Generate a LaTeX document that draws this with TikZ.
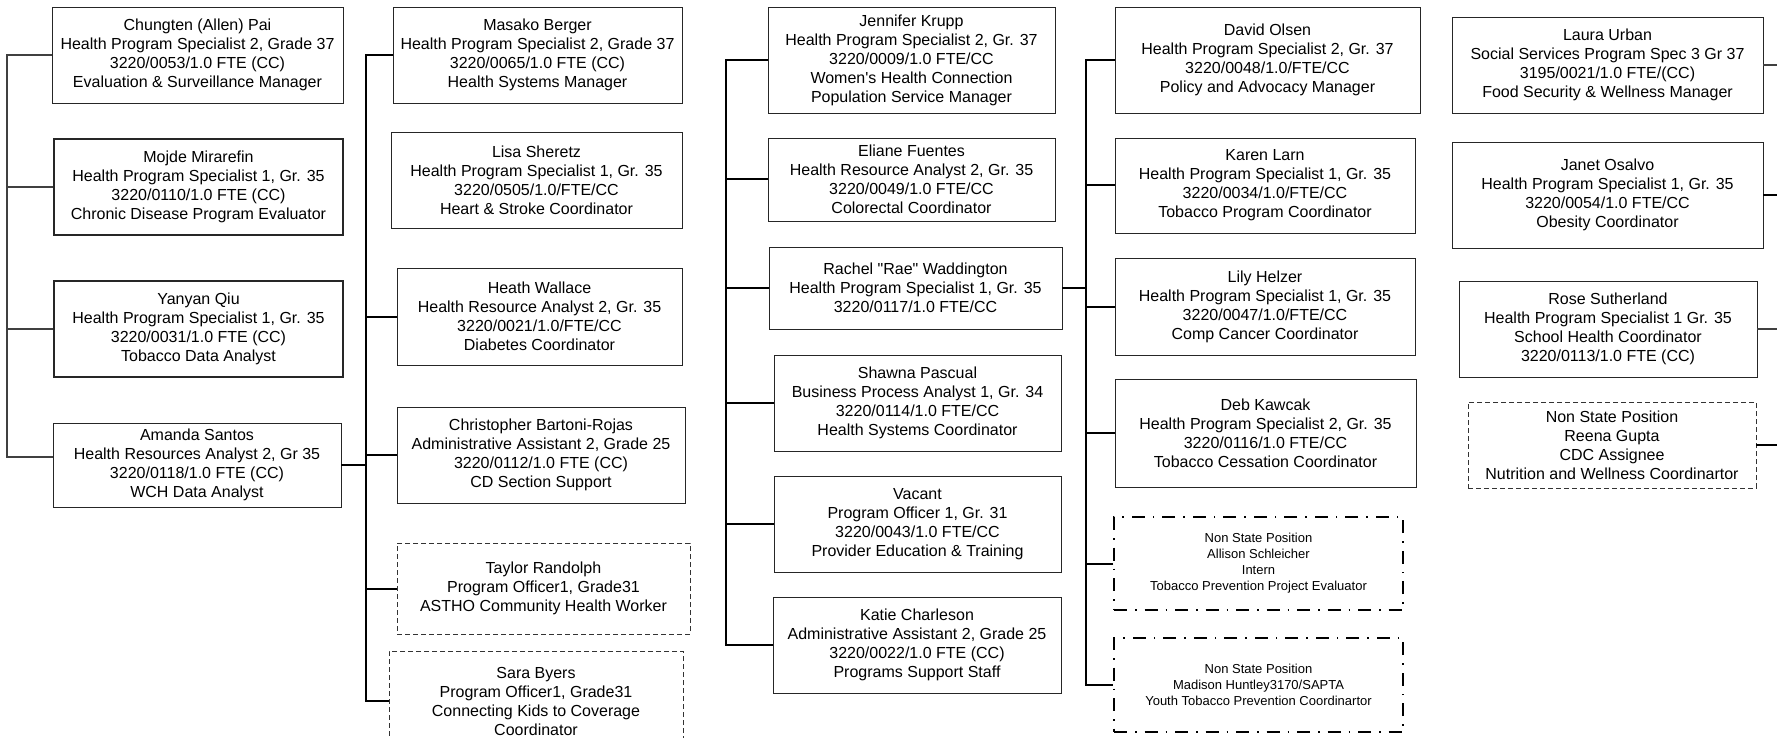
\documentclass[tikz,border=0pt]{standalone}
\usepackage{fontspec}
\newfontfamily\arialfont{Liberation Sans}
\begin{document}
\begin{tikzpicture}[x=1pt,y=-1pt,
  font=\arialfont\fontsize{16}{19}\selectfont,
  box/.style={draw=black!85, line width=0.9pt, align=center, inner sep=0pt, anchor=center},
  thickbox/.style={box, line width=2.2pt},
  dashbox/.style={box, draw=black!80, line width=0.8pt, dash pattern=on 5pt off 3pt},
  dotdashbox/.style={box, draw=black, line width=1.4pt, dash pattern=on 13pt off 8pt on 1.5pt off 8pt, font=\arialfont\fontsize{13}{16}\selectfont},
  thinconn/.style={draw=black!75, line width=1.1pt},
  conn/.style={draw=black, line width=2pt}]
\useasboundingbox (0,0) rectangle (1777,738);
\fill[white] (0,0) rectangle (1777,738);
\clip (0,0) rectangle (1777,738);

% trunk coordinates
\coordinate (t1) at (7,0);
\coordinate (t2) at (366,0);
\coordinate (t3) at (726,0);
\coordinate (t4) at (1086,0);
\coordinate (edge) at (1777,0);

% column 1
\node[box, minimum width=291, minimum height=96] (chungten) at (197.5,55) {Chungten (Allen) Pai\\Health Program Specialist 2, Grade 37\\3220/0053/1.0 FTE (CC)\\Evaluation \& Surveillance Manager};
\node[thickbox, minimum width=289, minimum height=96] (mojde) at (198.5,187) {Mojde Mirarefin\\Health Program Specialist 1, Gr. 35\\3220/0110/1.0 FTE (CC)\\Chronic Disease Program Evaluator};
\node[thickbox, minimum width=289, minimum height=96] (yanyan) at (198.5,329) {Yanyan Qiu\\Health Program Specialist 1, Gr. 35\\3220/0031/1.0 FTE (CC)\\Tobacco Data Analyst};
\node[box, minimum width=288, minimum height=84] (amanda) at (197,465) {Amanda Santos\\Health Resources Analyst 2, Gr 35\\3220/0118/1.0 FTE (CC)\\WCH Data Analyst};

% column 2
\node[box, minimum width=289, minimum height=96] (masako) at (537.5,55) {Masako Berger\\Health Program Specialist 2, Grade 37\\3220/0065/1.0 FTE (CC)\\Health Systems Manager};
\node[box, minimum width=291, minimum height=96] (lisa) at (536.5,180) {Lisa Sheretz\\Health Program Specialist 1, Gr. 35\\3220/0505/1.0/FTE/CC\\Heart \& Stroke Coordinator};
\node[box, minimum width=285, minimum height=97] (heath) at (539.5,316.5) {Heath Wallace\\Health Resource Analyst 2, Gr. 35\\3220/0021/1.0/FTE/CC\\Diabetes Coordinator};
\node[box, minimum width=288, minimum height=96] (christopher) at (541,455) {Christopher Bartoni-Rojas\\Administrative Assistant 2, Grade 25\\3220/0112/1.0 FTE (CC)\\CD Section Support};
\node[dashbox, minimum width=293, minimum height=91] (taylor) at (543.5,588.5) {Taylor Randolph\\Program Officer1, Grade31\\ASTHO Community Health Worker};
\node[dashbox, minimum width=294, minimum height=100] (sara) at (536,701) {Sara Byers\\Program Officer1, Grade31\\Connecting Kids to Coverage\\Coordinator};

% column 3
\node[box, minimum width=287, minimum height=106] (jennifer) at (911.5,60) {Jennifer Krupp\\Health Program Specialist 2, Gr. 37\\3220/0009/1.0 FTE/CC\\Women's Health Connection\\Population Service Manager};
\node[box, minimum width=287, minimum height=83] (eliane) at (911.5,179.5) {Eliane Fuentes\\Health Resource Analyst 2, Gr. 35\\3220/0049/1.0 FTE/CC\\Colorectal Coordinator};
\node[box, minimum width=293, minimum height=82] (rachel) at (915.5,288) {Rachel "Rae" Waddington\\Health Program Specialist 1, Gr. 35\\3220/0117/1.0 FTE/CC};
\node[box, minimum width=287, minimum height=96] (shawna) at (917.5,403) {Shawna Pascual\\Business Process Analyst 1, Gr. 34\\3220/0114/1.0 FTE/CC\\Health Systems Coordinator};
\node[box, minimum width=287, minimum height=96] (vacant) at (917.5,524) {Vacant\\Program Officer 1, Gr. 31\\3220/0043/1.0 FTE/CC\\Provider Education \& Training};
\node[box, minimum width=288, minimum height=96] (katie) at (917,645) {Katie Charleson\\Administrative Assistant 2, Grade 25\\3220/0022/1.0 FTE (CC)\\Programs Support Staff};

% column 4
\node[box, minimum width=305, minimum height=106] (david) at (1267.5,60) {David Olsen\\Health Program Specialist 2, Gr. 37\\3220/0048/1.0/FTE/CC\\Policy and Advocacy Manager};
\node[box, minimum width=300, minimum height=95] (karen) at (1265,185.5) {Karen Larn\\Health Program Specialist 1, Gr. 35\\3220/0034/1.0/FTE/CC\\Tobacco Program Coordinator};
\node[box, minimum width=300, minimum height=97] (lily) at (1265,306.5) {Lily Helzer\\Health Program Specialist 1, Gr. 35\\3220/0047/1.0/FTE/CC\\Comp Cancer Coordinator};
\node[box, minimum width=301, minimum height=108] (deb) at (1265.5,433) {Deb Kawcak\\Health Program Specialist 2, Gr. 35\\3220/0116/1.0 FTE/CC\\Tobacco Cessation Coordinator};
\node[dotdashbox, minimum width=289, minimum height=93] (allison) at (1258.5,563.5) {Non State Position\\Allison Schleicher\\Intern\\Tobacco Prevention Project Evaluator};
\node[dotdashbox, minimum width=289, minimum height=94] (madison) at (1258.5,685) {Non State Position\\Madison Huntley3170/SAPTA\\Youth Tobacco Prevention Coordinartor};

% column 5
\node[box, minimum width=311, minimum height=96] (laura) at (1607.5,65) {Laura Urban\\Social Services Program Spec 3 Gr 37\\3195/0021/1.0 FTE/(CC)\\Food Security \& Wellness Manager};
\node[box, minimum width=311, minimum height=106] (janet) at (1607.5,195) {Janet Osalvo\\Health Program Specialist 1, Gr. 35\\3220/0054/1.0 FTE/CC\\Obesity Coordinator};
\node[box, minimum width=298, minimum height=96] (rose) at (1608,329) {Rose Sutherland\\Health Program Specialist 1 Gr. 35\\School Health Coordinator\\3220/0113/1.0 FTE (CC)};
\node[dashbox, minimum width=288, minimum height=86] (reena) at (1612,445) {Non State Position\\Reena Gupta\\CDC Assignee\\Nutrition and Wellness Coordinartor};

% connectors column 1
\draw[thinconn] (chungten.west) -- (chungten.west -| t1) -- ([yshift=8pt]amanda.west -| t1) -- ([yshift=8pt]amanda.west);
\draw[thinconn] (mojde.west) -- (mojde.west -| t1);
\draw[thinconn] (yanyan.west) -- (yanyan.west -| t1);

% connectors column 2
\draw[conn] (masako.west) -- (masako.west -| t2) -- (sara.west -| t2) -- (sara.west);
\draw[conn] (heath.west) -- (heath.west -| t2);
\draw[conn] (christopher.west) -- (christopher.west -| t2);
\draw[conn] (taylor.west) -- (taylor.west -| t2);
\draw[conn] (amanda.east) -- (amanda.east -| t2);

% connectors column 3
\draw[conn] (jennifer.west) -- (jennifer.west -| t3) -- (katie.west -| t3) -- (katie.west);
\draw[conn] (eliane.west) -- (eliane.west -| t3);
\draw[conn] (rachel.west) -- (rachel.west -| t3);
\draw[conn] (shawna.west) -- (shawna.west -| t3);
\draw[conn] (vacant.west) -- (vacant.west -| t3);

% connectors column 4
\draw[conn] (david.west) -- (david.west -| t4) -- (madison.west -| t4) -- (madison.west);
\draw[conn] (karen.west) -- (karen.west -| t4);
\draw[conn] (lily.west) -- (lily.west -| t4);
\draw[conn] (deb.west) -- (deb.west -| t4);
\draw[conn] (allison.west) -- (allison.west -| t4);
\draw[conn] (rachel.east) -- (rachel.east -| t4);

% connectors column 5 (to the right edge)
\draw[thinconn] (laura.east) -- (laura.east -| edge);
\draw[conn] (janet.east) -- (janet.east -| edge);
\draw[thinconn] (rose.east) -- (rose.east -| edge);
\draw[conn] (reena.east) -- (reena.east -| edge);
\end{tikzpicture}
\end{document}
